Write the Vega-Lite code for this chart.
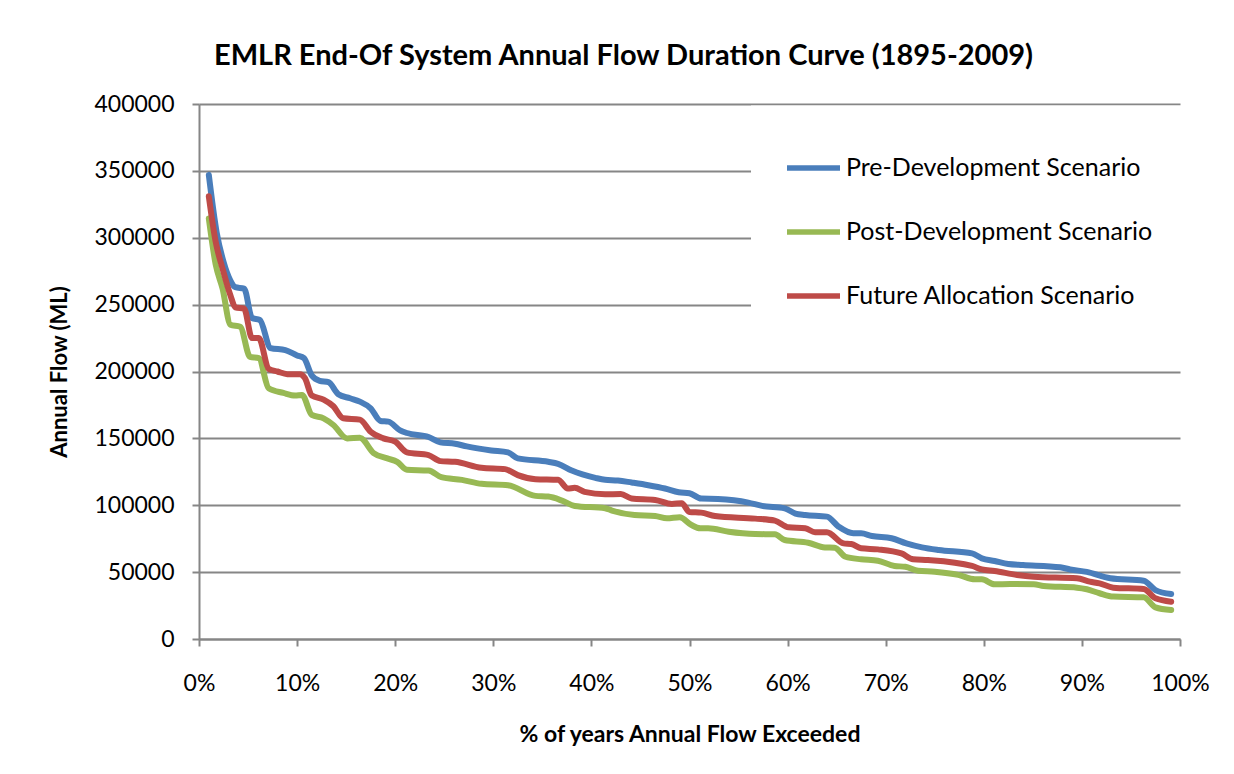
{
  "$schema": "https://vega.github.io/schema/vega-lite/v6.json",
  "width": 981,
  "height": 535,
  "autosize": {"type": "none"},
  "padding": {"left": 199, "top": 104, "right": 54, "bottom": 135},
  "background": "white",
  "title": {
    "text": "EMLR End-Of System Annual Flow Duration Curve (1895-2009)",
    "font": "Lato", "fontSize": 29, "fontWeight": "bold", "color": "black",
    "anchor": "middle", "dx": -66, "offset": 22
  },
  "data": {"values": [
    {"p": 1.0, "s": "Pre", "v": 347000}, {"p": 1.8, "s": "Pre", "v": 304000}, {"p": 2.5, "s": "Pre", "v": 282000},
    {"p": 3.2, "s": "Pre", "v": 268000}, {"p": 3.7, "s": "Pre", "v": 263000}, {"p": 4.6, "s": "Pre", "v": 262000},
    {"p": 5.4, "s": "Pre", "v": 240000}, {"p": 6.2, "s": "Pre", "v": 238500}, {"p": 7.3, "s": "Pre", "v": 217500},
    {"p": 8.8, "s": "Pre", "v": 216000}, {"p": 10.0, "s": "Pre", "v": 212000}, {"p": 10.7, "s": "Pre", "v": 210000},
    {"p": 11.5, "s": "Pre", "v": 197000}, {"p": 12.3, "s": "Pre", "v": 193000}, {"p": 13.2, "s": "Pre", "v": 192000},
    {"p": 14.2, "s": "Pre", "v": 183000}, {"p": 15.4, "s": "Pre", "v": 180000}, {"p": 16.4, "s": "Pre", "v": 177500},
    {"p": 17.5, "s": "Pre", "v": 172500}, {"p": 18.5, "s": "Pre", "v": 163000}, {"p": 19.3, "s": "Pre", "v": 162500},
    {"p": 20.5, "s": "Pre", "v": 156000}, {"p": 21.2, "s": "Pre", "v": 154000}, {"p": 23.4, "s": "Pre", "v": 151000},
    {"p": 24.6, "s": "Pre", "v": 147000}, {"p": 26.1, "s": "Pre", "v": 146000}, {"p": 27.3, "s": "Pre", "v": 144000},
    {"p": 29.8, "s": "Pre", "v": 141000}, {"p": 31.5, "s": "Pre", "v": 139500}, {"p": 32.5, "s": "Pre", "v": 135000},
    {"p": 35.6, "s": "Pre", "v": 132500}, {"p": 36.6, "s": "Pre", "v": 131000}, {"p": 38.0, "s": "Pre", "v": 126000},
    {"p": 40.4, "s": "Pre", "v": 120500}, {"p": 41.4, "s": "Pre", "v": 119000}, {"p": 42.7, "s": "Pre", "v": 118500},
    {"p": 44.1, "s": "Pre", "v": 117000}, {"p": 45.8, "s": "Pre", "v": 115000}, {"p": 47.5, "s": "Pre", "v": 112500},
    {"p": 48.9, "s": "Pre", "v": 109700}, {"p": 50.0, "s": "Pre", "v": 109000}, {"p": 51.2, "s": "Pre", "v": 105000},
    {"p": 52.9, "s": "Pre", "v": 104700}, {"p": 56.0, "s": "Pre", "v": 102000}, {"p": 57.4, "s": "Pre", "v": 99500},
    {"p": 59.7, "s": "Pre", "v": 97700}, {"p": 60.8, "s": "Pre", "v": 93800}, {"p": 61.8, "s": "Pre", "v": 92700},
    {"p": 64.0, "s": "Pre", "v": 91500}, {"p": 65.2, "s": "Pre", "v": 84000}, {"p": 66.7, "s": "Pre", "v": 79000},
    {"p": 67.5, "s": "Pre", "v": 79000}, {"p": 68.6, "s": "Pre", "v": 77000}, {"p": 70.6, "s": "Pre", "v": 75300},
    {"p": 72.1, "s": "Pre", "v": 71500}, {"p": 73.7, "s": "Pre", "v": 68500}, {"p": 75.4, "s": "Pre", "v": 66500},
    {"p": 78.8, "s": "Pre", "v": 64000}, {"p": 79.8, "s": "Pre", "v": 60300}, {"p": 81.1, "s": "Pre", "v": 58300},
    {"p": 82.5, "s": "Pre", "v": 56000}, {"p": 84.0, "s": "Pre", "v": 55300}, {"p": 87.8, "s": "Pre", "v": 53600},
    {"p": 88.8, "s": "Pre", "v": 52000}, {"p": 90.5, "s": "Pre", "v": 50200}, {"p": 92.9, "s": "Pre", "v": 45400},
    {"p": 96.3, "s": "Pre", "v": 43600}, {"p": 97.5, "s": "Pre", "v": 36600}, {"p": 99.1, "s": "Pre", "v": 33600},

    {"p": 1.0, "s": "Post", "v": 314500}, {"p": 1.7, "s": "Post", "v": 280000}, {"p": 2.4, "s": "Post", "v": 262000},
    {"p": 3.2, "s": "Post", "v": 235000}, {"p": 4.2, "s": "Post", "v": 233500}, {"p": 5.2, "s": "Post", "v": 211000},
    {"p": 6.1, "s": "Post", "v": 210000}, {"p": 7.1, "s": "Post", "v": 187500}, {"p": 8.6, "s": "Post", "v": 184000},
    {"p": 9.8, "s": "Post", "v": 182000}, {"p": 10.5, "s": "Post", "v": 182500}, {"p": 11.5, "s": "Post", "v": 167500},
    {"p": 12.7, "s": "Post", "v": 165000}, {"p": 13.7, "s": "Post", "v": 160000}, {"p": 15.1, "s": "Post", "v": 150000},
    {"p": 16.4, "s": "Post", "v": 150500}, {"p": 17.8, "s": "Post", "v": 139000}, {"p": 19.2, "s": "Post", "v": 135000},
    {"p": 20.2, "s": "Post", "v": 132500}, {"p": 21.2, "s": "Post", "v": 126500}, {"p": 23.4, "s": "Post", "v": 126000},
    {"p": 24.7, "s": "Post", "v": 121000}, {"p": 26.8, "s": "Post", "v": 119000}, {"p": 28.8, "s": "Post", "v": 116000},
    {"p": 31.5, "s": "Post", "v": 115000}, {"p": 34.3, "s": "Post", "v": 107000}, {"p": 35.6, "s": "Post", "v": 106500},
    {"p": 37.0, "s": "Post", "v": 103500}, {"p": 38.3, "s": "Post", "v": 99500}, {"p": 41.4, "s": "Post", "v": 97800},
    {"p": 42.1, "s": "Post", "v": 96000}, {"p": 44.4, "s": "Post", "v": 92700}, {"p": 46.5, "s": "Post", "v": 92000},
    {"p": 47.7, "s": "Post", "v": 90200}, {"p": 49.0, "s": "Post", "v": 91000}, {"p": 50.2, "s": "Post", "v": 85200},
    {"p": 51.1, "s": "Post", "v": 82800}, {"p": 51.9, "s": "Post", "v": 82800}, {"p": 54.0, "s": "Post", "v": 80200},
    {"p": 56.7, "s": "Post", "v": 78500}, {"p": 58.7, "s": "Post", "v": 78300}, {"p": 59.7, "s": "Post", "v": 74000},
    {"p": 62.1, "s": "Post", "v": 72000}, {"p": 63.8, "s": "Post", "v": 68500}, {"p": 64.8, "s": "Post", "v": 68300},
    {"p": 65.9, "s": "Post", "v": 61500}, {"p": 67.5, "s": "Post", "v": 59600}, {"p": 69.2, "s": "Post", "v": 58500},
    {"p": 70.9, "s": "Post", "v": 54600}, {"p": 72.0, "s": "Post", "v": 54000}, {"p": 73.3, "s": "Post", "v": 51000},
    {"p": 75.0, "s": "Post", "v": 50300}, {"p": 77.4, "s": "Post", "v": 47900}, {"p": 79.1, "s": "Post", "v": 44600},
    {"p": 79.8, "s": "Post", "v": 44600}, {"p": 81.1, "s": "Post", "v": 40900}, {"p": 82.7, "s": "Post", "v": 41100},
    {"p": 85.1, "s": "Post", "v": 41000}, {"p": 86.1, "s": "Post", "v": 39600}, {"p": 89.5, "s": "Post", "v": 38400},
    {"p": 90.5, "s": "Post", "v": 37200}, {"p": 91.8, "s": "Post", "v": 34200}, {"p": 93.2, "s": "Post", "v": 31700},
    {"p": 96.3, "s": "Post", "v": 31200}, {"p": 97.5, "s": "Post", "v": 23700}, {"p": 99.1, "s": "Post", "v": 21700},

    {"p": 1.0, "s": "Future", "v": 331000}, {"p": 1.7, "s": "Future", "v": 297000}, {"p": 2.4, "s": "Future", "v": 277000},
    {"p": 3.2, "s": "Future", "v": 257000}, {"p": 3.7, "s": "Future", "v": 248000}, {"p": 4.6, "s": "Future", "v": 247000},
    {"p": 5.4, "s": "Future", "v": 225000}, {"p": 6.1, "s": "Future", "v": 225000}, {"p": 7.1, "s": "Future", "v": 202000},
    {"p": 8.0, "s": "Future", "v": 200000}, {"p": 9.0, "s": "Future", "v": 198000}, {"p": 10.3, "s": "Future", "v": 198000},
    {"p": 10.8, "s": "Future", "v": 195000}, {"p": 11.5, "s": "Future", "v": 182000}, {"p": 12.7, "s": "Future", "v": 179000},
    {"p": 13.7, "s": "Future", "v": 174000}, {"p": 14.7, "s": "Future", "v": 165000}, {"p": 16.4, "s": "Future", "v": 164000},
    {"p": 17.5, "s": "Future", "v": 155000}, {"p": 18.8, "s": "Future", "v": 150000}, {"p": 20.0, "s": "Future", "v": 147500},
    {"p": 21.2, "s": "Future", "v": 139500}, {"p": 23.4, "s": "Future", "v": 137500}, {"p": 24.6, "s": "Future", "v": 133000},
    {"p": 26.1, "s": "Future", "v": 132500}, {"p": 28.8, "s": "Future", "v": 128000}, {"p": 31.2, "s": "Future", "v": 127000},
    {"p": 32.5, "s": "Future", "v": 122500}, {"p": 34.3, "s": "Future", "v": 119500}, {"p": 36.6, "s": "Future", "v": 119000},
    {"p": 37.6, "s": "Future", "v": 112500}, {"p": 38.3, "s": "Future", "v": 113000}, {"p": 39.3, "s": "Future", "v": 110000},
    {"p": 41.4, "s": "Future", "v": 108200}, {"p": 43.0, "s": "Future", "v": 108400}, {"p": 44.1, "s": "Future", "v": 105000},
    {"p": 46.5, "s": "Future", "v": 104000}, {"p": 48.2, "s": "Future", "v": 101000}, {"p": 49.2, "s": "Future", "v": 101500},
    {"p": 50.0, "s": "Future", "v": 95000}, {"p": 51.2, "s": "Future", "v": 94500}, {"p": 52.6, "s": "Future", "v": 92000},
    {"p": 56.7, "s": "Future", "v": 90000}, {"p": 58.7, "s": "Future", "v": 88500}, {"p": 60.1, "s": "Future", "v": 83500},
    {"p": 61.8, "s": "Future", "v": 82800}, {"p": 62.8, "s": "Future", "v": 79800}, {"p": 64.0, "s": "Future", "v": 79800},
    {"p": 65.7, "s": "Future", "v": 71500}, {"p": 66.5, "s": "Future", "v": 71000}, {"p": 67.5, "s": "Future", "v": 67800},
    {"p": 69.2, "s": "Future", "v": 67000}, {"p": 71.6, "s": "Future", "v": 64000}, {"p": 72.8, "s": "Future", "v": 59600},
    {"p": 74.3, "s": "Future", "v": 59000}, {"p": 78.8, "s": "Future", "v": 54600}, {"p": 79.8, "s": "Future", "v": 52000},
    {"p": 81.1, "s": "Future", "v": 50800}, {"p": 83.4, "s": "Future", "v": 47900}, {"p": 85.1, "s": "Future", "v": 46600},
    {"p": 89.5, "s": "Future", "v": 45400}, {"p": 90.8, "s": "Future", "v": 42900}, {"p": 91.8, "s": "Future", "v": 41600},
    {"p": 93.2, "s": "Future", "v": 38400}, {"p": 96.3, "s": "Future", "v": 37400}, {"p": 97.5, "s": "Future", "v": 30400},
    {"p": 99.1, "s": "Future", "v": 27900}
  ]},
  "mark": {"type": "line", "strokeWidth": 6, "interpolate": "monotone", "strokeCap": "round", "strokeJoin": "round"},
  "encoding": {
    "x": {
      "field": "p", "type": "quantitative",
      "scale": {"domain": [0, 100], "nice": false, "zero": false},
      "axis": {
        "title": "% of years Annual Flow Exceeded",
        "values": [0, 10, 20, 30, 40, 50, 60, 70, 80, 90, 100],
        "labelExpr": "datum.value + '%'",
        "grid": false,
        "domainColor": "#868686", "domainWidth": 2,
        "tickColor": "#868686", "tickWidth": 2, "tickSize": 7,
        "labelFont": "Lato", "labelFontSize": 23, "labelColor": "black", "labelPadding": 26,
        "labelFlush": false,
        "titleFont": "Lato", "titleFontSize": 23, "titleFontWeight": "bold", "titleColor": "black", "titlePadding": 28
      }
    },
    "y": {
      "field": "v", "type": "quantitative",
      "scale": {"domain": [0, 400000], "nice": false},
      "axis": {
        "title": "Annual Flow (ML)",
        "values": [0, 50000, 100000, 150000, 200000, 250000, 300000, 350000, 400000],
        "format": "d",
        "grid": true, "gridColor": "#868686", "gridWidth": 2,
        "domain": true, "domainColor": "#868686", "domainWidth": 2,
        "tickColor": "#868686", "tickWidth": 2, "tickSize": 7,
        "labelFont": "Lato", "labelFontSize": 23, "labelColor": "black", "labelPadding": 18,
        "titleFont": "Lato", "titleFontSize": 22, "titleFontWeight": "bold", "titleColor": "black", "titlePadding": 22
      }
    },
    "color": {
      "field": "s", "type": "nominal",
      "scale": {"domain": ["Pre", "Post", "Future"], "range": ["#4A7EBB", "#98B954", "#BE4B48"]},
      "legend": {
        "orient": "none", "legendX": 552, "legendY": 1.5,
        "title": null,
        "symbolType": "stroke", "symbolSize": 2809, "symbolStrokeWidth": 5.5,
        "labelFont": "Lato", "labelFontSize": 25, "labelColor": "black", "labelOffset": 3, "labelLimit": 500,
        "labelExpr": "datum.value == 'Pre' ? 'Pre-Development Scenario' : datum.value == 'Post' ? 'Post-Development Scenario' : 'Future Allocation Scenario'",
        "fillColor": "white", "padding": 33, "rowPadding": 21
      }
    }
  },
  "config": {"view": {"stroke": null}}
}
